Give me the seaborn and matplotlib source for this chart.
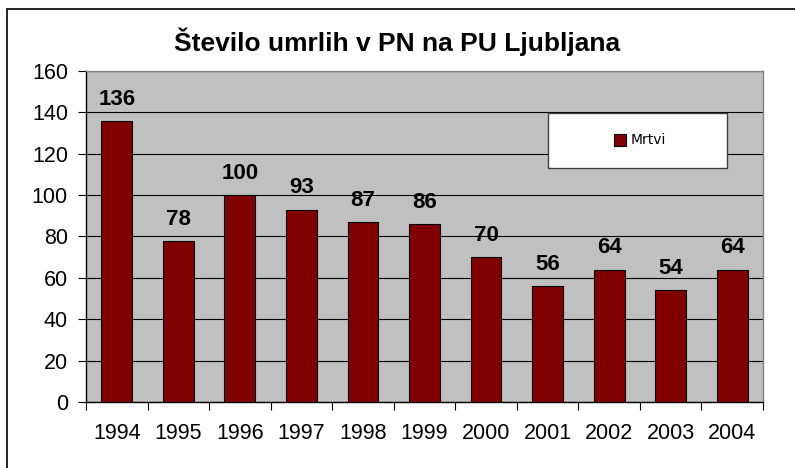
"""Excel-style bar chart: number of deaths in traffic accidents, PU Ljubljana."""

import matplotlib

matplotlib.use("Agg")
import matplotlib.pyplot as plt
import pandas as pd
import seaborn as sns
from matplotlib.patches import Rectangle
from matplotlib.lines import Line2D


YEARS = ["1994", "1995", "1996", "1997", "1998", "1999",
         "2000", "2001", "2002", "2003", "2004"]
DEATHS = [136, 78, 100, 93, 87, 86, 70, 56, 64, 54, 64]
SERIES = "Mrtvi"
TITLE = "Število umrlih v PN na PU Ljubljana"

BAR = "#800000"
PLOT_BG = "#C0C0C0"


def main() -> None:
    sns.set_style("white")
    plt.rcParams["font.family"] = ["Liberation Sans", "DejaVu Sans"]
    plt.rcParams["text.color"] = "black"
    plt.rcParams["xtick.color"] = "black"
    plt.rcParams["ytick.color"] = "black"

    df = pd.DataFrame({"year": YEARS, "deaths": DEATHS})

    fig = plt.figure(figsize=(7.95, 4.68), dpi=100)
    ax = fig.add_axes([86 / 795, 66 / 468, 677 / 795, 331 / 468])
    ax.set_facecolor(PLOT_BG)

    sns.barplot(data=df, x="year", y="deaths", color=BAR, saturation=1,
                width=0.5, edgecolor="black", linewidth=0.8, zorder=3, ax=ax)

    for i, v in enumerate(df["deaths"]):
        ax.annotate(str(v), (i, v), xytext=(0, 8), textcoords="offset points",
                    ha="center", va="bottom", fontsize=16, fontweight="bold",
                    color="black", zorder=5)

    ax.set_ylim(0, 160)
    ax.set_xlim(-0.5, len(YEARS) - 0.5)
    ax.set_yticks(range(0, 161, 20))
    ax.yaxis.grid(True, color="black", linewidth=0.8, zorder=1)
    ax.set_axisbelow(True)

    ax.set_xticks([i - 0.5 for i in range(len(YEARS) + 1)], minor=True)
    ax.tick_params(axis="x", which="major", length=0, pad=15,
                   labelsize=15.5, labelcolor="black")
    ax.tick_params(axis="x", which="minor", length=6, width=0.8,
                   direction="out", color="black", bottom=True)
    ax.tick_params(axis="y", length=6, width=0.8, direction="out",
                   color="black", pad=7, labelsize=15.5, labelcolor="black",
                   left=True)
    ax.set_xlabel("")
    ax.set_ylabel("")

    for side in ("top", "right"):
        ax.spines[side].set_color("#808080")
        ax.spines[side].set_linewidth(1)
    for side in ("left", "bottom"):
        ax.spines[side].set_color("black")
        ax.spines[side].set_linewidth(1)

    # legend box drawn by hand so it keeps Excel's fixed size
    box = Rectangle(((548 - 86) / 677, (402 - 168) / 331), 179 / 677, 55 / 331,
                    transform=ax.transAxes, facecolor="white",
                    edgecolor="#404040", linewidth=1, zorder=6)
    ax.add_patch(box)
    handle = Line2D([], [], marker="s", linestyle="none", markersize=8,
                    markerfacecolor=BAR, markeredgecolor="black",
                    markeredgewidth=0.8)
    ax.legend([handle], [SERIES], loc="center",
              bbox_to_anchor=((640 - 86) / 677, (402 - 140.5) / 331),
              frameon=False, handlelength=0.8, handletextpad=0.4,
              labelcolor="black",
              prop={"family": "DejaVu Sans", "size": 10}).set_zorder(7)

    fig.text(0.5, 1 - 42 / 468, TITLE, ha="center", va="center",
             fontsize=19, fontweight="bold", color="black")

    frame = Rectangle((7 / 795, -0.1), 1.0, 1 - 9 / 468 + 0.1,
                      transform=fig.transFigure, fill=False,
                      edgecolor="black", linewidth=1.2)
    fig.patches.append(frame)

    fig.savefig("out.png", dpi=100)
    plt.close(fig)


if __name__ == "__main__":
    main()
